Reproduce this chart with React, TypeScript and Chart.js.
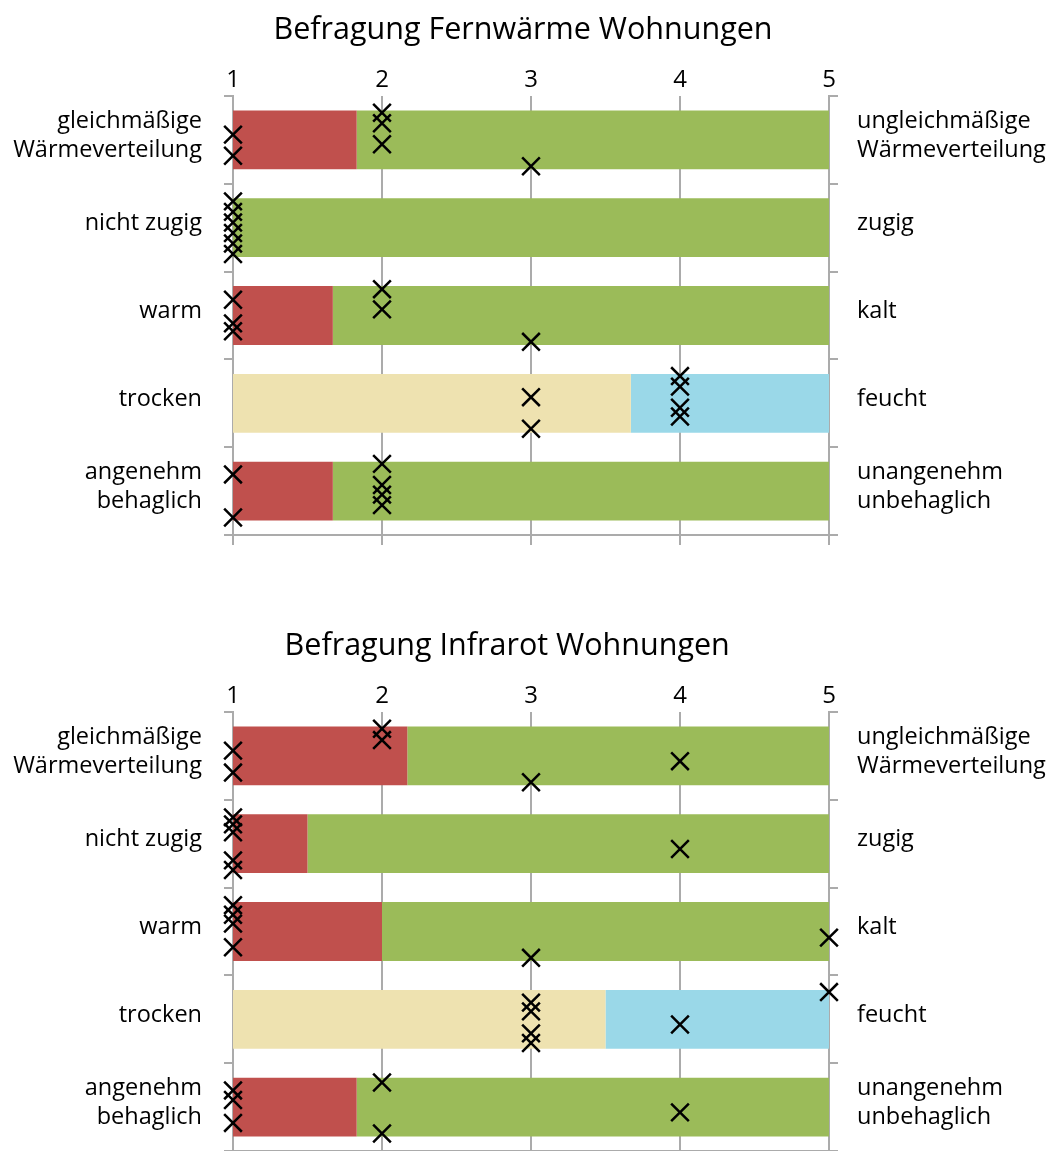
import React, { useEffect, useRef } from "react";
import { Chart, registerables } from "chart.js";

Chart.register(...registerables);

// ---------- data ----------
const leftLabels: (string | string[])[] = [
  ["gleichmäßige", "Wärmeverteilung"],
  "nicht zugig",
  "warm",
  "trocken",
  ["angenehm", "behaglich"],
];
const rightLabels: (string | string[])[] = [
  ["ungleichmäßige", "Wärmeverteilung"],
  "zugig",
  "kalt",
  "feucht",
  ["unangenehm", "unbehaglich"],
];
const scaleTicks = [1, 2, 3, 4, 5];

const fernTitle = "Befragung Fernwärme Wohnungen";
const fernMeans = [1.83, 1.0, 1.67, 3.67, 1.67];
const fernAnswers = [
  [1, 1, 2, 2, 2, 3],
  [1, 1, 1, 1, 1, 1],
  [1, 1, 1, 2, 2, 3],
  [3, 3, 4, 4, 4, 4],
  [1, 1, 2, 2, 2, 2],
];
// vertical spread of each answer mark inside its row (row units)
const fernJitter = [
  [-0.06, 0.18, -0.31, -0.19, 0.05, 0.3],
  [-0.3, -0.18, -0.06, 0.06, 0.18, 0.3],
  [-0.18, 0.09, 0.18, -0.3, -0.07, 0.3],
  [-0.07, 0.29, -0.31, -0.19, 0.05, 0.15],
  [-0.19, 0.3, -0.31, -0.07, 0.04, 0.16],
];

const infraTitle = "Befragung Infrarot Wohnungen";
const infraMeans = [2.17, 1.5, 2.0, 3.5, 1.83];
const infraAnswers = [
  [1, 1, 2, 2, 3, 4],
  [1, 1, 1, 1, 1, 4],
  [1, 1, 1, 1, 3, 5],
  [3, 3, 3, 3, 4, 5],
  [1, 1, 1, 2, 2, 4],
];
const infraJitter = [
  [-0.06, 0.19, -0.31, -0.18, 0.3, 0.06],
  [-0.3, -0.22, -0.13, 0.19, 0.3, 0.06],
  [-0.3, -0.19, -0.09, 0.18, 0.3, 0.07],
  [-0.19, -0.09, 0.16, 0.27, 0.06, -0.31],
  [-0.19, -0.08, 0.18, -0.28, 0.3, 0.06],
];

// ---------- styles ----------
const lowColors = ["#C0504D", "#C0504D", "#C0504D", "#EEE2B0", "#C0504D"];
const highColors = ["#9BBB59", "#9BBB59", "#9BBB59", "#9AD8E8", "#9BBB59"];
const FONT = "'Open Sans', 'DejaVu Sans', sans-serif";
const GRID = "#ABABAB";

type Props = {
  title: string;
  means: number[];
  answers: number[][];
  jitter: number[][];
};

function SurveyChart({ title, means, answers, jitter }: Props) {
  const ref = useRef<HTMLCanvasElement | null>(null);

  useEffect(() => {
    if (!ref.current) return;
    const points: { x: number; y: number }[] = [];
    answers.forEach((row, r) =>
      row.forEach((v, k) => points.push({ x: v, y: r + jitter[r][k] }))
    );
    const cats = leftLabels.map((_, i) => String(i));
    const noPad = (s: any) => {
      s.paddingTop = 0;
      s.paddingBottom = 0;
    };
    const labelFont = { family: FONT, size: 23.5, weight: 500 as any, lineHeight: 1.24 };

    const chart = new Chart(ref.current, {
      type: "bar",
      data: {
        labels: cats,
        datasets: [
          {
            type: "scatter",
            data: points,
            xAxisID: "x",
            yAxisID: "yp",
            pointStyle: "crossRot",
            radius: 12.5,
            hoverRadius: 12.5,
            borderWidth: 2.5,
            borderColor: "#000",
            backgroundColor: "rgba(0,0,0,0)",
            clip: false,
            order: 0,
          } as any,
          {
            data: means.map((m) => [scaleTicks[0], m]),
            backgroundColor: lowColors,
            borderWidth: 0,
            grouped: false,
            barPercentage: 0.67,
            categoryPercentage: 1,
            xAxisID: "x",
            yAxisID: "y",
            order: 1,
          } as any,
          {
            data: means.map((m) => [m, scaleTicks[scaleTicks.length - 1]]),
            backgroundColor: highColors,
            borderWidth: 0,
            grouped: false,
            barPercentage: 0.67,
            categoryPercentage: 1,
            xAxisID: "x",
            yAxisID: "y",
            order: 1,
          } as any,
        ],
      },
      options: {
        indexAxis: "y",
        responsive: false,
        animation: false,
        events: [],
        layout: { padding: 0 },
        plugins: {
          legend: { display: false },
          tooltip: { enabled: false },
          title: {
            display: true,
            text: title,
            color: "#000",
            font: { family: FONT, size: 30.5, weight: 500 as any },
            padding: { top: 12, bottom: 0 },
          },
        },
        scales: {
          x: {
            type: "linear",
            position: "top",
            min: scaleTicks[0],
            max: scaleTicks[scaleTicks.length - 1],
            afterBuildTicks: (s: any) => {
              s.ticks = scaleTicks.map((v) => ({ value: v }));
            },
            ticks: {
              color: "#000",
              font: { family: FONT, size: 24, weight: 500 as any },
              padding: 1,
              maxRotation: 0,
            },
            grid: { color: GRID, lineWidth: 2, drawTicks: false },
            border: { display: false },
            afterFit: (s: any) => {
              s.height = 47.4;
            },
          },
          xb: {
            type: "linear",
            position: "bottom",
            min: scaleTicks[0],
            max: scaleTicks[scaleTicks.length - 1],
            afterBuildTicks: (s: any) => {
              s.ticks = scaleTicks.map((v) => ({ value: v }));
            },
            ticks: { display: false },
            grid: {
              color: GRID,
              lineWidth: 2,
              drawOnChartArea: false,
              drawTicks: true,
              tickLength: 10,
            },
            border: { display: true, color: GRID, width: 2 },
            afterFit: (s: any) => {
              s.height = 15;
              s.paddingLeft = 0;
              s.paddingRight = 0;
            },
          },
          y: {
            type: "category",
            position: "left",
            offset: true,
            ticks: {
              color: "#000",
              font: labelFont,
              padding: 22,
              labelOffset: -4,
              callback: (_v: any, i: number) => leftLabels[i] as any,
            },
            grid: {
              color: GRID,
              lineWidth: 2,
              offset: true,
              drawOnChartArea: false,
              drawTicks: true,
              tickLength: 9,
            },
            border: { display: true, color: GRID, width: 2 },
            afterFit: (s: any) => {
              s.width = 233;
              noPad(s);
            },
          },
          yr: {
            type: "category",
            position: "right",
            offset: true,
            labels: cats,
            ticks: {
              color: "#000",
              font: labelFont,
              padding: 19,
              labelOffset: -4,
              callback: (_v: any, i: number) => rightLabels[i] as any,
            },
            grid: {
              color: GRID,
              lineWidth: 2,
              offset: true,
              drawOnChartArea: false,
              drawTicks: true,
              tickLength: 9,
            },
            border: { display: true, color: GRID, width: 2 },
            afterFit: (s: any) => {
              s.width = 1054 - 829;
              noPad(s);
            },
          },
          yp: {
            type: "linear",
            display: false,
            offset: false,
            reverse: true,
            min: -0.5,
            max: leftLabels.length - 0.5,
            grid: { offset: false },
          },
        },
      } as any,
    });
    return () => chart.destroy();
  }, [title, means, answers, jitter]);

  return <canvas ref={ref} width={1054} height={550} style={{ display: "block" }} />;
}

export default function App() {
  return (
    <div style={{ position: "absolute", left: 0, top: 0, width: 1054, height: 1151, background: "#fff", overflow: "hidden" }}>
      <div style={{ position: "absolute", left: 0, top: 0 }}>
        <SurveyChart title={fernTitle + " "} means={fernMeans} answers={fernAnswers} jitter={fernJitter} />
      </div>
      <div style={{ position: "absolute", left: 0, top: 616 }}>
        <SurveyChart title={infraTitle + "     "} means={infraMeans} answers={infraAnswers} jitter={infraJitter} />
      </div>
    </div>
  );
}
